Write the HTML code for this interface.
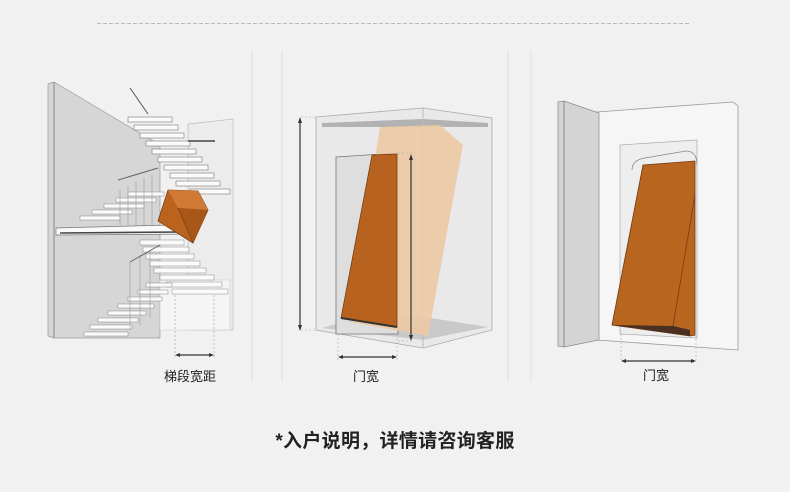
<!DOCTYPE html>
<html><head><meta charset="utf-8"><style>
html,body{margin:0;padding:0;background:#f1f1f1;}
body{width:790px;height:492px;overflow:hidden;position:relative;font-family:"Liberation Sans","Noto Sans CJK SC",sans-serif;}
svg{position:absolute;left:0;top:0;}
.lbl{position:absolute;font-size:13px;color:#222;}
.t{position:absolute;left:0;width:790px;top:426px;text-align:center;font-size:19px;font-weight:bold;color:#222;letter-spacing:0.3px;}
</style></head><body>
<svg width="790" height="492" viewBox="0 0 790 492">
<line x1="97" y1="23.5" x2="690" y2="23.5" stroke="#b8b8b8" stroke-dasharray="4,2"/>
<g stroke="#dedede" stroke-width="1">
<line x1="252" y1="50" x2="252" y2="382"/><line x1="282" y1="50" x2="282" y2="382"/>
<line x1="508" y1="50" x2="508" y2="382"/><line x1="531" y1="50" x2="531" y2="382"/>
</g>

<!-- PANEL 1 -->
<polygon points="188,124 233,119 233,330 188,330" fill="#ececec" stroke="#bbb" stroke-width="0.7"/>
<polygon points="48,84 54,82 160,145 160,338 54,338 48,336" fill="#d6d6d6" stroke="#999" stroke-width="0.7"/>
<line x1="54" y1="82" x2="54" y2="338" stroke="#888"/>
<polygon points="160,280 230,280 230,330 160,330" fill="#f5f5f5" stroke="#ccc" stroke-width="0.6"/>
<g fill="#fbfbfb" stroke="#777" stroke-width="0.6">
<rect x="128" y="117" width="44" height="5"/><rect x="134" y="125" width="44" height="5"/>
<rect x="140" y="133" width="44" height="5"/><rect x="146" y="141" width="44" height="5"/>
<rect x="152" y="149" width="44" height="5"/><rect x="158" y="157" width="44" height="5"/>
<rect x="164" y="165" width="44" height="5"/><rect x="170" y="173" width="44" height="5"/>
<rect x="176" y="181" width="44" height="5"/><rect x="190" y="189" width="40" height="5"/>
</g>
<line x1="130" y1="88" x2="148" y2="114" stroke="#555"/>
<line x1="188" y1="141" x2="215" y2="141" stroke="#444" stroke-width="1.5"/>
<polygon points="56,228 170,225 195,227 195,234 56,235" fill="#fafafa" stroke="#777" stroke-width="0.7"/>
<line x1="60" y1="233" x2="180" y2="232" stroke="#444" stroke-width="1.6"/>
<g fill="#fbfbfb" stroke="#888" stroke-width="0.5">
<rect x="80" y="216" width="40" height="4"/><rect x="92" y="210" width="40" height="4"/>
<rect x="104" y="204" width="40" height="4"/><rect x="116" y="198" width="40" height="4"/>
<rect x="128" y="192" width="36" height="4"/>
<rect x="140" y="240" width="44" height="5"/><rect x="143" y="247" width="46" height="5"/>
<rect x="146" y="254" width="48" height="5"/><rect x="150" y="261" width="50" height="5"/>
<rect x="154" y="268" width="52" height="5"/><rect x="160" y="275" width="54" height="5"/>
<rect x="166" y="282" width="56" height="5"/><rect x="172" y="289" width="56" height="5"/>
<rect x="146" y="283" width="26" height="4"/><rect x="138" y="290" width="30" height="4"/>
<rect x="128" y="297" width="34" height="4"/><rect x="118" y="304" width="36" height="4"/>
<rect x="108" y="311" width="38" height="4"/><rect x="98" y="318" width="40" height="4"/>
<rect x="90" y="325" width="42" height="4"/><rect x="84" y="332" width="44" height="4"/>
</g>
<g stroke="#999" stroke-width="0.6">
<line x1="120" y1="190" x2="120" y2="225"/><line x1="128" y1="186" x2="128" y2="225"/><line x1="136" y1="182" x2="136" y2="225"/><line x1="144" y1="178" x2="144" y2="225"/><line x1="152" y1="175" x2="152" y2="225"/>
<line x1="130" y1="262" x2="130" y2="330"/><line x1="140" y1="255" x2="140" y2="325"/><line x1="150" y1="250" x2="150" y2="318"/>
</g>
<line x1="118" y1="180" x2="158" y2="168" stroke="#666"/>
<line x1="130" y1="262" x2="160" y2="245" stroke="#666"/>
<polygon points="168,190 198,191 208,210 193,243 158,221" fill="#b9631e" stroke="#7a3c10" stroke-width="0.8"/>
<polygon points="168,190 198,191 208,210 178,208" fill="#d07a35"/>
<polygon points="178,208 208,210 193,243" fill="#a85718"/>
<line x1="178" y1="208" x2="193" y2="243" stroke="#7a3c10" stroke-width="0.6"/>
<g stroke="#aaa" stroke-dasharray="2,2" stroke-width="0.7">
<line x1="175" y1="295" x2="175" y2="358"/><line x1="214" y1="295" x2="214" y2="358"/>
</g>
<line x1="177" y1="355" x2="212" y2="355" stroke="#333" stroke-width="1.2"/>
<polygon points="175,355 180,353 180,357" fill="#333"/><polygon points="214,355 209,353 209,357" fill="#333"/>

<!-- PANEL 2 -->
<polygon points="316,117 423,108 492,118 492,330 423,348 316,330" fill="#e9e9e9" stroke="#aaa" stroke-width="0.8"/>
<polygon points="322,123 423,119 488,123 488,127 322,127" fill="#9a9a9a" opacity="0.7"/>
<polygon points="322,328 340,323 418,316 488,327 423,340" fill="#c9c9c9"/>
<line x1="423" y1="108" x2="423" y2="348" stroke="#bbb"/>
<polygon points="336,157 398,153 398,334 336,334" fill="#dedede" stroke="#777" stroke-width="0.8"/>
<polygon points="380,127 440,125 463,145 428,336 350,322" fill="#ebc9a4" opacity="0.92"/>
<polygon points="372,155 397,154 397,327 341,318" fill="#b7621f" stroke="#6e3a10" stroke-width="0.7"/>
<line x1="341" y1="318" x2="397" y2="327" stroke="#333" stroke-width="2"/>
<g stroke="#aaa" stroke-dasharray="2,2" stroke-width="0.6">
<line x1="301" y1="117" x2="316" y2="117"/><line x1="301" y1="330" x2="316" y2="330"/>
<line x1="398" y1="153" x2="413" y2="153"/><line x1="398" y1="341" x2="413" y2="341"/>
<line x1="338" y1="334" x2="338" y2="360"/><line x1="397" y1="334" x2="397" y2="360"/>
</g>
<line x1="300" y1="120" x2="300" y2="328" stroke="#333" stroke-width="1.2"/>
<polygon points="300,117 298,123 302,123" fill="#333"/><polygon points="300,331 298,325 302,325" fill="#333"/>
<line x1="411" y1="157" x2="411" y2="338" stroke="#333" stroke-width="1.2"/>
<polygon points="411,154 409,160 413,160" fill="#333"/><polygon points="411,341 409,335 413,335" fill="#333"/>
<line x1="340" y1="357" x2="395" y2="357" stroke="#333" stroke-width="1.2"/>
<polygon points="338,357 343,355 343,359" fill="#333"/><polygon points="397,357 392,355 392,359" fill="#333"/>

<!-- PANEL 3 -->
<polygon points="597,112 733,102 738,106 738,350 597,340" fill="#f6f6f6" stroke="#999" stroke-width="0.8"/>
<polygon points="558,102 564,101 599,113 599,340 564,347 558,346" fill="#d4d4d4" stroke="#888" stroke-width="0.7"/>
<line x1="564" y1="101" x2="564" y2="347" stroke="#888"/>
<polygon points="620,145 697,140 697,338 620,334" fill="#eeeeee" stroke="#aaa" stroke-width="0.7"/>
<path d="M632,170 Q632,160 645,158 L686,151 Q697,151 697,165" fill="none" stroke="#888" stroke-width="0.8"/>
<polygon points="612,325 643,165 695,161 695,335 690,336" fill="#b8651f" stroke="#6e3a10" stroke-width="0.8"/>
<polygon points="612,325 690,336 690,330 673,326" fill="#4a3020"/>
<line x1="673" y1="326" x2="695" y2="195" stroke="#7a3c10" stroke-width="0.8"/>
<g stroke="#aaa" stroke-dasharray="2,2" stroke-width="0.6">
<line x1="621" y1="330" x2="621" y2="362"/><line x1="696" y1="335" x2="696" y2="362"/>
</g>
<line x1="623" y1="361" x2="694" y2="361" stroke="#333" stroke-width="1.2"/>
<polygon points="621,361 626,359 626,363" fill="#333"/><polygon points="696,361 691,359 691,363" fill="#333"/>
</svg>
<div class="lbl" style="left:164px;top:366px;">梯段宽距</div>
<div class="lbl" style="left:353px;top:366px;">门宽</div>
<div class="lbl" style="left:643px;top:365px;">门宽</div>
<div class="t">*入户说明，详情请咨询客服</div>
</body></html>
